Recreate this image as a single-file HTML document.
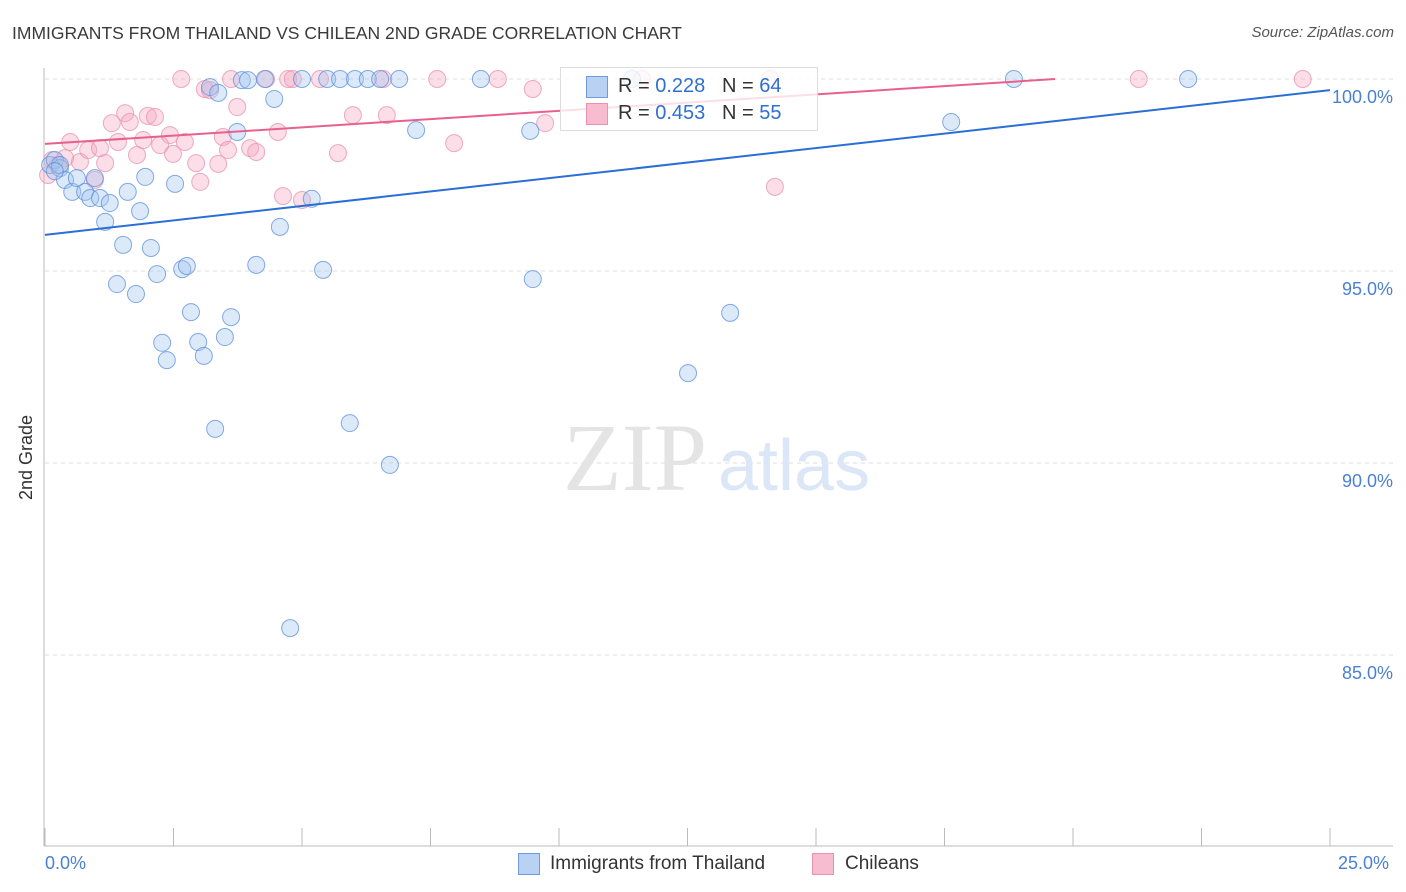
<!DOCTYPE html>
<html><head><meta charset="utf-8"><style>
body{margin:0;background:#fff;font-family:"Liberation Sans",sans-serif;}
#wrap{position:relative;width:1406px;height:892px;overflow:hidden;}
.t{position:absolute;white-space:nowrap;}
</style></head><body>
<div id="wrap">
<div class="t" style="left:12px;top:23px;font-size:17.5px;color:#3a3a3a;">IMMIGRANTS FROM THAILAND VS CHILEAN 2ND GRADE CORRELATION CHART</div>
<div class="t" style="right:12px;top:24px;font-size:15px;color:#555;font-style:italic;">Source: ZipAtlas.com</div>
<svg id="svg" width="1406" height="892" style="position:absolute;left:0;top:0"></svg>
</div>
<script>
const xTicks=[0,2.5,5,7.5,10,12.5,15,17.5,20,22.5,25];
const yTicks=[100,95,90,85];
const yTickLabels=["100.0%","95.0%","90.0%","85.0%"];
const blueX=[0.10,0.19,0.29,0.39,0.53,0.62,0.78,0.88,0.97,1.07,1.17,1.26,1.52,1.61,1.40,1.77,1.85,1.95,2.06,2.18,2.28,2.37,2.53,2.67,2.76,2.84,2.98,3.09,3.21,3.31,3.37,3.50,3.62,3.74,3.83,3.95,4.11,4.28,4.46,4.57,4.77,5.00,5.19,5.41,5.49,5.74,5.93,6.03,6.28,6.52,6.71,6.89,7.22,8.48,9.44,9.49,11.42,12.51,13.33,17.63,18.85,22.24,0.29,0.19];
const blueY=[97.76,97.89,97.68,97.37,97.06,97.42,97.06,96.90,97.42,96.90,96.28,96.77,95.68,97.06,94.66,94.40,96.56,97.45,95.60,94.92,93.13,92.68,97.27,95.05,95.13,93.93,93.15,92.79,99.79,90.89,99.64,93.28,93.80,98.62,99.97,99.97,95.16,100,99.48,96.15,85.70,100,96.88,95.03,100,100,91.04,100,100,100,89.95,100,98.67,100,98.65,94.79,100,92.34,93.91,98.88,100,100,97.76,97.6];
const pinkX=[0.06,0.14,0.25,0.39,0.49,0.68,0.84,0.97,1.07,1.17,1.30,1.42,1.56,1.65,1.79,1.91,2.00,2.14,2.24,2.43,2.49,2.65,2.72,2.94,3.02,3.11,3.21,3.37,3.46,3.56,3.62,3.74,3.99,4.11,4.30,4.53,4.63,4.73,4.82,5.00,5.35,5.70,5.99,6.58,6.65,7.63,7.96,8.81,9.49,9.73,11.61,14.11,14.20,21.28,24.47];
const pinkY=[97.50,97.89,97.76,97.94,98.36,97.84,98.15,97.37,98.20,97.81,98.85,98.36,99.11,98.88,98.02,98.41,99.04,99.01,98.28,98.54,98.05,100,98.36,97.81,97.32,99.74,99.71,97.79,98.49,98.15,100,99.27,98.20,98.10,100,98.62,96.95,100,100,96.85,100,98.07,99.06,100,99.06,100,98.33,100,99.74,98.85,100,100,97.19,100,100];
const blueLine=[[0,95.94],[25,99.71]];
const pinkLine=[[0,98.31],[19.65,100]];
const X=v=>45+v*51.4, Y=v=>79+(100-v)*38.4;
const svg=document.getElementById('svg');const NS='http://www.w3.org/2000/svg';
function mk(t,a){const e=document.createElementNS(NS,t);for(const k in a)e.setAttribute(k,a[k]);svg.appendChild(e);return e;}
yTicks.forEach((v,i)=>{
 const l=mk('line',{x1:45,x2:1393,y1:Y(v),y2:Y(v),stroke:'#ddd','stroke-dasharray':'4,4'});
 
 
 const t=mk('text',{x:1393,y:Y(v)+24,'text-anchor':'end','font-size':18,fill:'#4a7fd6','font-family':'Liberation Sans'});t.textContent=yTickLabels[i];
 
 
});
let ax=mk('line',{x1:44,x2:44,y1:68,y2:846,stroke:'#bbb'});


ax=mk('line',{x1:44,x2:1393,y1:846,y2:846,stroke:'#bbb'});


xTicks.forEach(v=>{const l=mk('line',{x1:X(v),x2:X(v),y1:828,y2:846,stroke:'#bbb'});
 
 });
let wm=mk('text',{x:635,y:490,'text-anchor':'middle','font-size':96,fill:'#e4e4e4','font-family':'Liberation Serif'});wm.textContent='ZIP';


wm=mk('text',{x:718,y:490,'font-size':72,fill:'#dbe6f6','font-family':'Liberation Sans'});wm.textContent='atlas';


function pts(xs,ys,fill,stroke,name){xs.forEach((x,i)=>{const c=mk('circle',{cx:X(x),cy:Y(ys[i]),r:8.5,fill:fill,'fill-opacity':0.38,stroke:stroke,'stroke-opacity':0.75,'stroke-width':1});
 
 });}
pts(pinkX,pinkY,'#f5a8c0','#e890ad','point-chileans');
pts(blueX,blueY,'#a3c4ee','#5b8fdc','point-thailand');
let ln=mk('line',{x1:X(blueLine[0][0]),y1:Y(blueLine[0][1]),x2:X(blueLine[1][0]),y2:Y(blueLine[1][1]),stroke:'#2a6fd6','stroke-width':2});


ln=mk('line',{x1:X(pinkLine[0][0]),y1:Y(pinkLine[0][1]),x2:X(pinkLine[1][0]),y2:Y(pinkLine[1][1]),stroke:'#e8608e','stroke-width':2});


</script>
<div class="t" style="left:560px;top:67px;width:256px;height:62px;border:1px solid #ddd;background:rgba(255,255,255,0.8);">
 <div class="t" style="left:25px;top:8px;width:20px;height:20px;background:#b9d2f3;border:1px solid #6d9be0;"></div>
 <div class="t" style="left:57px;top:7px;font-size:20px;color:#333;">R = <span style="color:#2f6fd0">0.228</span>&nbsp;&nbsp;&nbsp;N = <span style="color:#2f6fd0">64</span></div>
 <div class="t" style="left:25px;top:35px;width:20px;height:20px;background:#f8bcd0;border:1px solid #ea91ae;"></div>
 <div class="t" style="left:57px;top:34px;font-size:20px;color:#333;">R = <span style="color:#2f6fd0">0.453</span>&nbsp;&nbsp;&nbsp;N = <span style="color:#2f6fd0">55</span></div>
</div>
<div class="t" style="left:16px;top:500px;font-size:18px;color:#333;transform:rotate(-90deg);transform-origin:0 0;">2nd Grade</div>
<div class="t" style="left:45px;top:853px;font-size:18px;color:#4a7fd6;">0.0%</div>
<div class="t" style="left:1338px;top:853px;font-size:18px;color:#4a7fd6;">25.0%</div>
<div class="t" style="left:518px;top:853px;width:20px;height:20px;background:#b9d2f3;border:1px solid #6d9be0;"></div>
<div class="t" style="left:550px;top:853px;font-size:19px;color:#333;">Immigrants from Thailand</div>
<div class="t" style="left:812px;top:853px;width:20px;height:20px;background:#f8bcd0;border:1px solid #ea91ae;"></div>
<div class="t" style="left:845px;top:853px;font-size:19px;color:#333;">Chileans</div>
</body></html>
